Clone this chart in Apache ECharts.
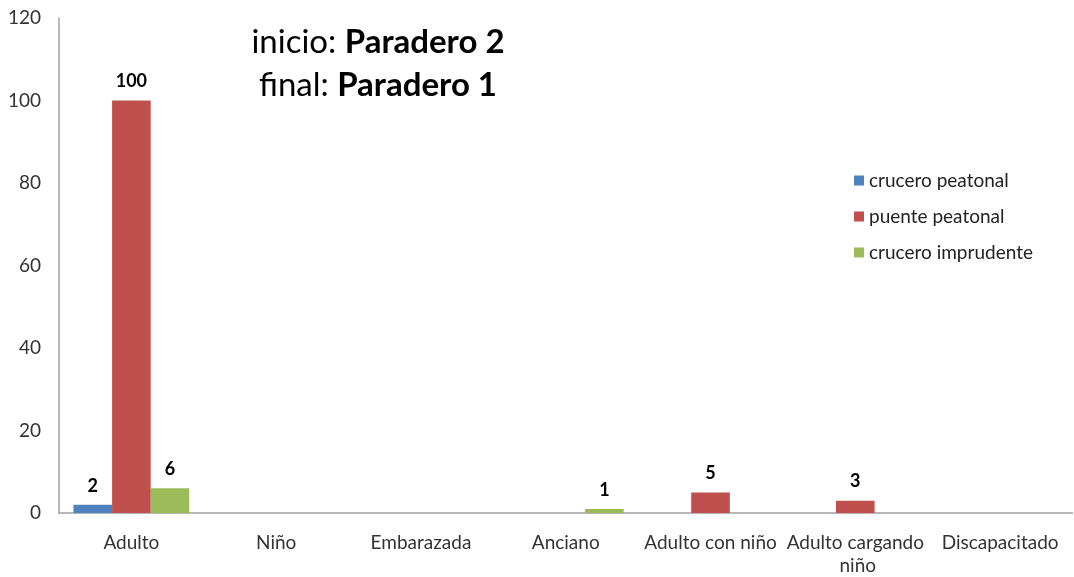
<!DOCTYPE html>
<html>
<head>
<meta charset="utf-8">
<script src="https://cdn.jsdelivr.net/npm/echarts@6/dist/echarts.min.js"></script>
<style>
  html, body { margin: 0; padding: 0; background: #fff; }
  #chart { width: 1074px; height: 577px; }
</style>
</head>
<body>
<div id="chart"></div>
<script>
// categorias del eje x
var categorias = ['Adulto', 'Niño', 'Embarazada', 'Anciano', 'Adulto con niño', 'Adulto cargando niño', 'Discapacitado']
var cruceroPeatonal = [2, 0, 0, 0, 0, 0, 0]
var puentePeatonal = [100, 0, 0, 0, 5, 3, 0]
var cruceroImprudente = [6, 0, 0, 1, 0, 0, 0]
var ticksY = [0, 20, 40, 60, 80, 100, 120]

var fuente = 'Lato, "Open Sans", sans-serif'

function etiqueta () {
  return {
    show: true,
    position: 'top',
    distance: 10,
    color: '#000',
    fontWeight: 'bold',
    fontSize: 18,
    fontFamily: fuente,
    formatter: function (p) { return p.value === 0 ? '' : p.value }
  }
}

var myChart = echarts.init(document.getElementById('chart'))
myChart.setOption({
  animation: false,
  textStyle: { fontFamily: fuente },
  color: ['#4F81BD', '#C0504D', '#9BBB59'],
  grid: { left: 59, right: 0, top: 18, bottom: 60 },
  legend: {
    orient: 'vertical',
    left: 849,
    top: 166,
    itemWidth: 10,
    itemHeight: 10,
    itemGap: 17,
    icon: 'rect',
    textStyle: { fontSize: 19, color: '#222', fontFamily: fuente },
    data: ['crucero peatonal', 'puente peatonal', 'crucero imprudente']
  },
  graphic: [
    {
      type: 'text',
      x: 378,
      y: 42,
      style: {
        text: '{n|inicio: }{b|Paradero 2}',
        align: 'center',
        verticalAlign: 'middle',
        rich: {
          n: { fontSize: 33, fontFamily: fuente, fill: '#000' },
          b: { fontSize: 33, fontFamily: fuente, fontWeight: 'bold', fill: '#000' }
        }
      }
    },
    {
      type: 'text',
      x: 378,
      y: 85,
      style: {
        text: '{n|final: }{b|Paradero 1}',
        align: 'center',
        verticalAlign: 'middle',
        rich: {
          n: { fontSize: 33, fontFamily: fuente, fill: '#000' },
          b: { fontSize: 33, fontFamily: fuente, fontWeight: 'bold', fill: '#000' }
        }
      }
    }
  ],
  xAxis: {
    type: 'category',
    data: categorias,
    axisLine: { lineStyle: { color: '#A0A0A0', width: 1.5 } },
    axisTick: { show: false },
    axisLabel: {
      interval: 0,
      margin: 18,
      fontSize: 19,
      color: '#333',
      width: 142,
      overflow: 'break',
      lineHeight: 23
    }
  },
  yAxis: {
    type: 'value',
    min: ticksY[0],
    max: ticksY[ticksY.length - 1],
    interval: ticksY[1] - ticksY[0],
    axisLine: { show: true, lineStyle: { color: '#A0A0A0', width: 1.5 } },
    axisTick: { show: false },
    splitLine: { show: false },
    axisLabel: { margin: 18, fontSize: 19, color: '#333' }
  },
  series: [
    { name: 'crucero peatonal', type: 'bar', data: cruceroPeatonal, barGap: '0%', barCategoryGap: '20%', label: etiqueta() },
    { name: 'puente peatonal', type: 'bar', data: puentePeatonal, barGap: '0%', barCategoryGap: '20%', label: etiqueta() },
    { name: 'crucero imprudente', type: 'bar', data: cruceroImprudente, barGap: '0%', barCategoryGap: '20%', label: etiqueta() }
  ]
})
</script>
</body>
</html>
